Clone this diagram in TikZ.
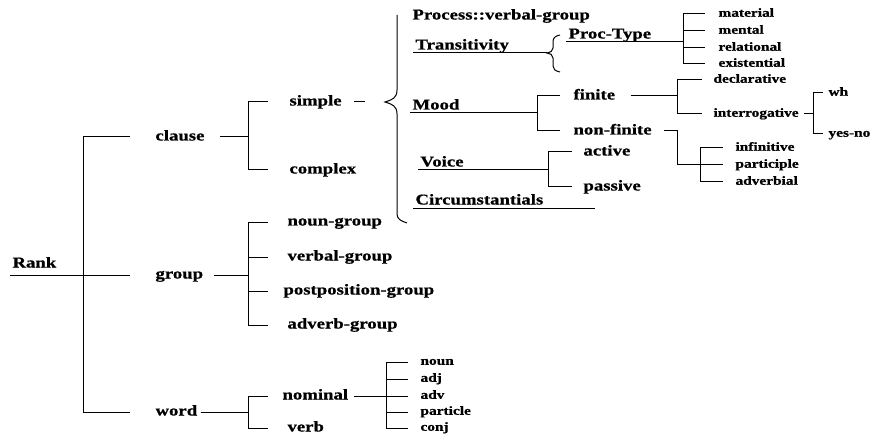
\documentclass[tikz,border=0pt]{standalone}
\usepackage{fontspec}
\setmainfont{Liberation Serif}[FakeStretch=1.25,BoldFeatures={FakeBold=0.8}]

\tikzset{
  lbl/.style={anchor=west, inner sep=0pt, text height=10pt, text depth=3pt,
    font=\fontsize{15}{17}\selectfont\bfseries},
  sml/.style={anchor=west, inner sep=0pt, text height=8pt, text depth=2.5pt,
    font=\fontsize{12.3}{14}\selectfont\bfseries},
  hd/.style={anchor=south west, inner xsep=2pt, inner ysep=3pt, text depth=0pt,
    font=\fontsize{15}{17}\selectfont\bfseries},
  br/.style={shorten >=#1},
}

\begin{document}
\begin{tikzpicture}[x=1pt,y=-1pt,line width=1pt]
    \useasboundingbox (0,0) rectangle (876,441);

    % rank and its three branches
    \node[hd,inner ysep=7pt] (rank) at (10,275) {Rank};
    \node[lbl] (clause) at (155,137) {clause};
    \node[lbl] (group)  at (155,275) {group};
    \node[lbl] (word)   at (155,412) {word};
    \coordinate (rank-fork) at (83,275);
    \draw (rank.south west) -- (rank-fork);
    \draw[br=25pt] (rank-fork) |- (clause.west);
    \draw[br=25pt] (rank-fork) |- (group.west);
    \draw[br=25pt] (rank-fork) |- (word.west);

    % clause
    \node[lbl] (simple)  at (289,102) {simple};
    \node[lbl] (complex) at (289,170) {complex};
    \coordinate (clause-fork) at (248,137);
    \draw[shorten <=15pt] (clause.east) -- (clause-fork);
    \draw[br=21pt] (clause-fork) |- (simple.west);
    \draw[br=21pt] (clause-fork) |- (complex.west);

    \coordinate (brace-tip) at (385,102);
    \draw[shorten <=12pt,shorten >=20pt] (simple.east) -- (brace-tip);
    \draw (397,15) -- (397,90) .. controls (397,98) and (392,100) .. (brace-tip)
        .. controls (392,104) and (397,106) .. (397,114) -- (397,214)
        .. controls (397,219) and (401,221) .. (407,223);

    \node[lbl] (process) at (412,16) {Process::verbal-group};

    % transitivity
    \node[hd] (trans) at (413,53) {Transitivity};
    \coordinate (trans-tip) at (547,53);
    \draw (trans.south west) -- (trans-tip);
    \draw (560,35) .. controls (555,36) and (553,38) .. (553,42) -- (553,48)
        .. controls (553,51) and (550,53) .. (trans-tip)
        .. controls (550,53) and (553,55) .. (553,58) -- (553,66)
        .. controls (553,69) and (555,71) .. (560,72);

    \node[hd] (proctype) at (566,42) {Proc-Type};
    \node[sml] (material)    at (718,14) {material};
    \node[sml] (mental)      at (718,31) {mental};
    \node[sml] (relational)  at (718,48) {relational};
    \node[sml] (existential) at (718,64) {existential};
    \coordinate (proc-fork) at (683,42);
    \draw (proctype.south west) -- (proc-fork);
    \foreach \n in {material,mental,relational,existential}
        \draw[br=13pt] (proc-fork) |- (\n.west);

    % mood
    \node[hd] (mood) at (410,113) {Mood};
    \node[lbl] (finite)    at (573,96)  {finite};
    \node[lbl] (nonfinite) at (573,131) {non-finite};
    \coordinate (mood-fork) at (537,113);
    \draw (mood.south west) -- (mood-fork);
    \draw[br=13pt] (mood-fork) |- (finite.west);
    \draw[br=13pt] (mood-fork) |- (nonfinite.west);

    \node[sml] (declarative)   at (713,80)  {declarative};
    \node[sml] (interrogative) at (713,114) {interrogative};
    \coordinate (finite-fork) at (677,96);
    \draw[shorten <=15pt] (finite.east) -- (finite-fork);
    \draw[br=11pt] (finite-fork) |- (declarative.west);
    \draw[br=11pt] (finite-fork) |- (interrogative.west);

    \node[sml] (wh)    at (828,93)  {wh};
    \node[sml] (yesno) at (828,134) {yes-no};
    \coordinate (interr-fork) at (813,114);
    \draw[shorten <=5pt] (interrogative.east) -- (interr-fork);
    \draw[br=5pt] (interr-fork) |- (wh.west);
    \draw[br=5pt] (interr-fork) |- (yesno.west);

    \node[sml] (infinitive) at (735,148) {infinitive};
    \node[sml] (participle) at (735,165) {participle};
    \node[sml] (adverbial)  at (735,182) {adverbial};
    \coordinate (nonfinite-bend) at (677,131);
    \coordinate (nonfinite-fork) at (700,165);
    \draw[shorten <=12pt] (nonfinite.east) -- (nonfinite-bend) |- (nonfinite-fork);
    \foreach \n in {infinitive,participle,adverbial}
        \draw[br=12pt] (nonfinite-fork) |- (\n.west);

    % voice
    \node[hd] (voice) at (418,170) {Voice};
    \node[lbl] (active)  at (583,152) {active};
    \node[lbl] (passive) at (583,187) {passive};
    \coordinate (voice-fork) at (548,170);
    \draw (voice.south west) -- (voice-fork);
    \draw[br=11pt] (voice-fork) |- (active.west);
    \draw[br=11pt] (voice-fork) |- (passive.west);

    \node[hd] (circ) at (413,208) {Circumstantials};
    \coordinate (circ-end) at (595,208);
    \draw (circ.south west) -- (circ-end);

    % group
    \node[lbl] (noungroup)  at (287,222) {noun-group};
    \node[lbl] (verbalgroup) at (287,257) {verbal-group};
    \node[lbl] (postgroup)  at (283,291) {postposition-group};
    \node[lbl] (advgroup)   at (287,325) {adverb-group};
    \coordinate (group-fork) at (248,275);
    \draw[shorten <=10pt] (group.east) -- (group-fork);
    \draw[br=19pt] (group-fork) |- (noungroup.west);
    \draw[br=19pt] (group-fork) |- (verbalgroup.west);
    \draw[br=15pt] (group-fork) |- (postgroup.west);
    \draw[br=19pt] (group-fork) |- (advgroup.west);

    % word
    \node[lbl] (nominal) at (282,396) {nominal};
    \node[lbl] (verb)    at (287,428) {verb};
    \coordinate (word-fork) at (248,412);
    \draw[shorten <=3pt] (word.east) -- (word-fork);
    \draw[br=14pt] (word-fork) |- (nominal.west);
    \draw[br=19pt] (word-fork) |- (verb.west);

    \node[sml] (noun)     at (420,362) {noun};
    \node[sml] (adj)      at (420,379) {adj};
    \node[sml] (adv)      at (420,396) {adv};
    \node[sml] (particle) at (420,412) {particle};
    \node[sml] (conj)     at (420,428) {conj};
    \coordinate (nominal-fork) at (386,396);
    \draw[shorten <=5pt,shorten >=12pt] (nominal.east) -- (adv.west);
    \foreach \n in {noun,adj,particle,conj}
        \draw[br=12pt] (nominal-fork) |- (\n.west);

\end{tikzpicture}
\end{document}
